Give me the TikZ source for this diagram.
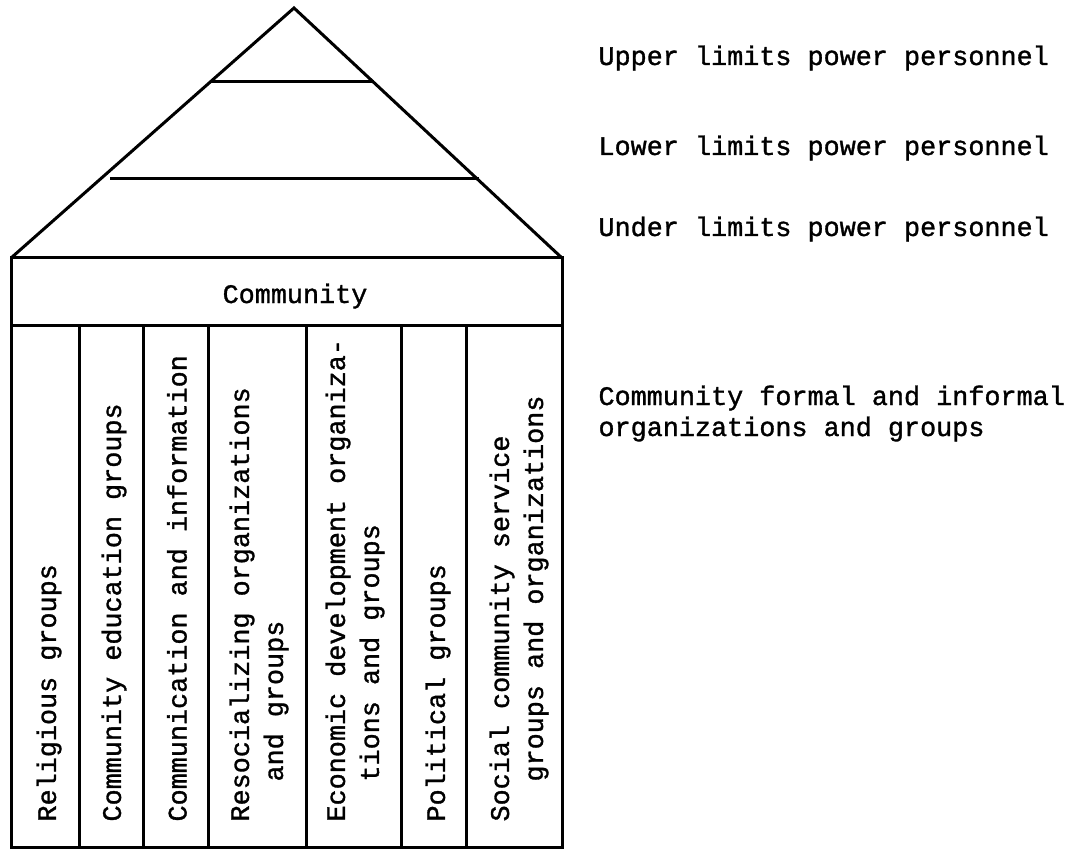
\documentclass[tikz,border=0pt]{standalone}
\usepackage{fontspec}
\newfontfamily\typewriter{Liberation Mono}[FakeBold=1.2]
\usetikzlibrary{positioning}

\begin{document}
\begin{tikzpicture}[x=1pt, y=-1pt, line width=3pt,
    label/.style={font=\typewriter\fontsize{26.8}{32}\selectfont, inner sep=0pt},
    pillar/.style={font=\typewriter\fontsize{26.8}{34}\selectfont, inner sep=0pt,
        rotate=90, anchor=west, align=left}]
    \useasboundingbox (0,0) rectangle (1070,850);
    \coordinate (apex) at (294,8);
    \coordinate (eaveL) at (11,258);
    \coordinate (eaveR) at (562,258);
    \def\band{325}
    \def\floor{847}
    \def\start{823}
    \def\indent{\hspace*{40pt}}

    % Roof
    \draw (eaveL) -- (apex) -- (eaveR);
    \draw (211,82) -- (374,82);
    \draw (110,179) -- (479,179);

    % House body
    \draw (eaveL) rectangle (562,\floor);
    \draw (11,\band) -- (562,\band);
    \foreach \x in {79,143,208,306,401,466}
        \draw (\x,\band) -- (\x,\floor);
    \node[label, anchor=base] (community) at (295,303) {Community};

    % Pillars
    \node[pillar] (religious) at (49,\start) {Religious groups};
    \node[pillar] (education) at (114,\start) {Community education groups};
    \node[pillar] (information) at (177,\start) {Communication and information};
    \node[pillar] (resocial) at (259,\start) {Resocializing organizations\\\indent and groups};
    \node[pillar] (economic) at (355,\start) {Economic development organiza-\\\indent tions and groups};
    \node[pillar] (political) at (438,\start) {Political groups};
    \node[pillar] (social) at (519,\start) {Social community service\\\indent groups and organizations};

    % Levels
    \node[label, anchor=base west] (upper) at (597,65) {Upper limits power personnel};
    \node[label, anchor=base west] (lower) at (597,155) {Lower limits power personnel};
    \node[label, anchor=base west] (under) at (597,236) {Under limits power personnel};
    \node[label, anchor=base west] (formal) at (597,405) {Community formal and informal};
    \node[label, anchor=base west] (groups) at (597,436) {organizations and groups};
\end{tikzpicture}
\end{document}
